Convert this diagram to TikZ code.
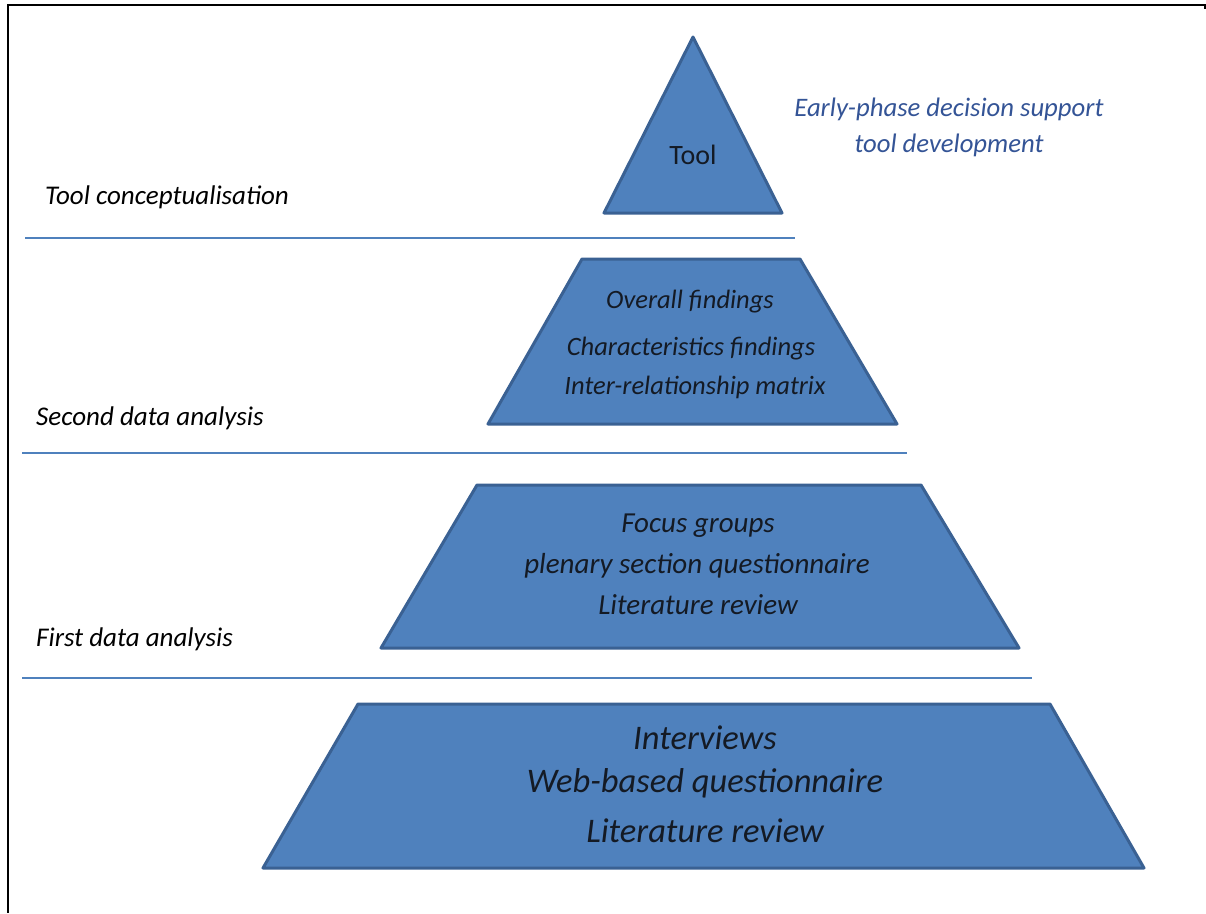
\documentclass[tikz,border=0pt]{standalone}
\usepackage{fontspec}
\setmainfont{Carlito}
\definecolor{pfill}{HTML}{4F81BD}
\definecolor{pedge}{HTML}{3A6193}
\definecolor{sepline}{HTML}{4F81BD}
\definecolor{notecol}{RGB}{52,84,150}
\definecolor{txt}{HTML}{141A24}
\tikzset{
  level/.style={fill=pfill, draw=pedge, line width=3pt, line join=round},
  sep/.style={draw=sepline, line width=1.2pt},
  frame/.style={draw=black},
  phase/.style={anchor=west, inner sep=0pt, yshift=-2pt, font=\fontsize{27}{30}\selectfont\itshape, text=black},
  inner/.style={align=center, inner sep=0pt, yshift=-2.5pt, text=txt},
}
\begin{document}
\begin{tikzpicture}[x=1pt,y=-1pt]
\useasboundingbox (0,0) rectangle (1206,913);
% frame
\draw[frame, line width=1.2pt] (7,5) -- (1205,5) -- (1205,9);
\draw[frame, line width=2.2pt] (8,4.5) -- (8,913);
% levels
\draw[level] (693,37) -- (782,213) -- (604,213) -- cycle;
\draw[level] (582,259) -- (800,259) -- (897,424) -- (488,424) -- cycle;
\draw[level] (477,485) -- (921,485) -- (1019,648) -- (381,648) -- cycle;
\draw[level] (358,704) -- (1050,704) -- (1144,868) -- (263,868) -- cycle;
% separators
\coordinate (s1a) at (25,238); \coordinate (s1b) at (795,238);
\coordinate (s2a) at (22,453); \coordinate (s2b) at (907,453);
\coordinate (s3a) at (22,678); \coordinate (s3b) at (1032,678);
\draw[sep] (s1a) -- (s1b);
\draw[sep] (s2a) -- (s2b);
\draw[sep] (s3a) -- (s3b);
% phase labels
\node[phase] (p1) at (45,195) {Tool conceptualisation};
\node[phase] (p2) at (36,416) {Second data analysis};
\node[phase] (p3) at (36,637) {First data analysis};
% note
\node[inner, text=notecol, font=\fontsize{26.7}{36}\selectfont\itshape] (note) at (949,125) {Early-phase decision support\\tool development};
% contents
\node[inner, font=\fontsize{28}{30}\selectfont] (tool) at (693,152) {Tool};
\node[inner, font=\fontsize{26.5}{30}\selectfont\itshape] (a1) at (690,299) {Overall findings};
\node[inner, font=\fontsize{26.5}{30}\selectfont\itshape] (a2) at (691,346) {Characteristics findings};
\node[inner, font=\fontsize{26.5}{30}\selectfont\itshape] (a3) at (695,385) {Inter-relationship matrix};
\node[inner, font=\fontsize{29}{32}\selectfont\itshape] (b1) at (698,523) {Focus groups};
\node[inner, font=\fontsize{29}{32}\selectfont\itshape] (b2) at (697,563) {plenary section questionnaire};
\node[inner, font=\fontsize{29}{32}\selectfont\itshape] (b3) at (698,602) {Literature review};
\node[inner, font=\fontsize{34.5}{38}\selectfont\itshape] (c1) at (705,735) {Interviews};
\node[inner, font=\fontsize{34.5}{38}\selectfont\itshape] (c2) at (705,781) {Web-based questionnaire};
\node[inner, font=\fontsize{34.5}{38}\selectfont\itshape] (c3) at (705,828) {Literature review};
\end{tikzpicture}
\end{document}
